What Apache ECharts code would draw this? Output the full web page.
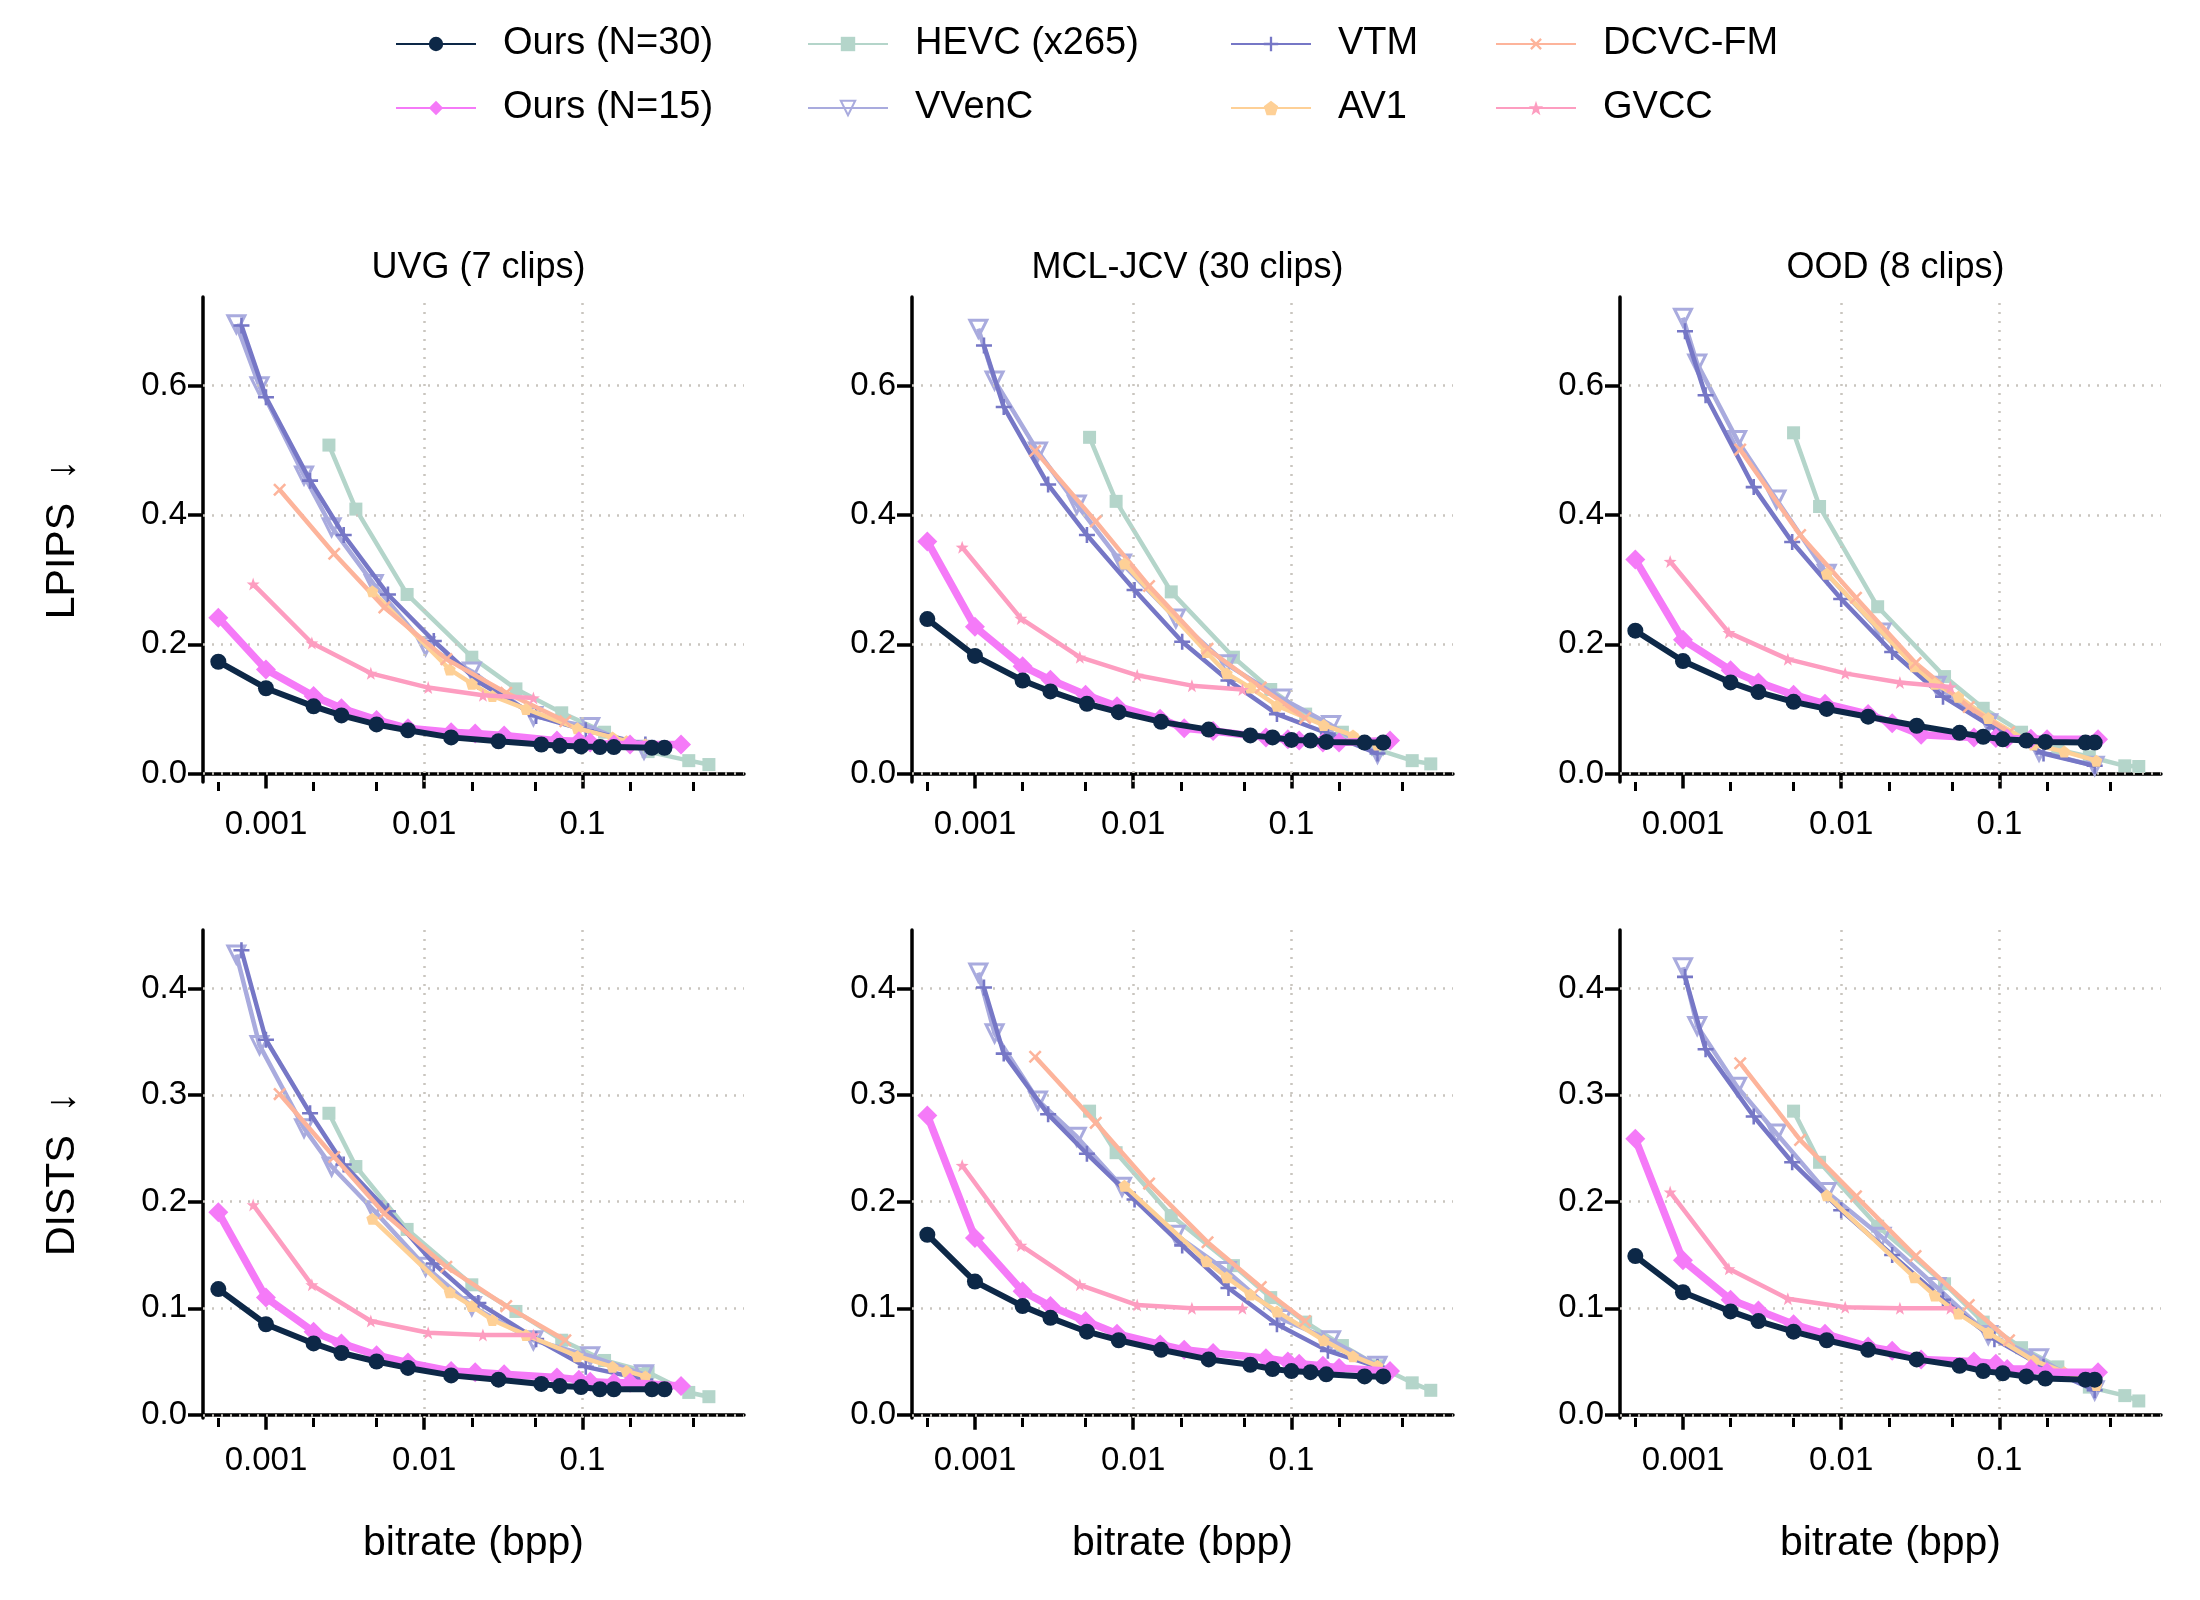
<!DOCTYPE html>
<html>
<head>
<meta charset="utf-8">
<script src="https://cdn.jsdelivr.net/npm/echarts@6/dist/echarts.min.js"></script>
<style>html,body{margin:0;padding:0;background:#fff}#main{width:2200px;height:1600px}</style>
</head>
<body>
<div id="main"></div>
<script>
// 数据 (bpp, 指标值)
var ours30X_uvg = [0.0005, 0.001, 0.002, 0.003, 0.005, 0.0079, 0.0148, 0.0295, 0.055, 0.072, 0.098, 0.129, 0.158, 0.275, 0.33];
var ours30X_mcl = [0.0005, 0.001, 0.002, 0.003, 0.0051, 0.0081, 0.015, 0.030, 0.055, 0.076, 0.1, 0.132, 0.166, 0.29, 0.38];
var ours30X_ood = [0.0005, 0.001, 0.002, 0.003, 0.005, 0.0081, 0.0148, 0.030, 0.056, 0.079, 0.105, 0.148, 0.195, 0.35, 0.40];
var ours15X = [0.0005, 0.001, 0.002, 0.003, 0.005, 0.0079, 0.0148, 0.021, 0.032, 0.069, 0.095, 0.112, 0.158, 0.2, 0.42];
var hevcX_uvg = [0.0025, 0.0037, 0.0078, 0.02, 0.038, 0.074, 0.138, 0.26, 0.47, 0.63];
var hevcX_mcl = [0.0053, 0.0078, 0.0174, 0.043, 0.074, 0.123, 0.21, 0.35, 0.58, 0.76];
var hevcX_ood = [0.005, 0.0073, 0.017, 0.045, 0.079, 0.138, 0.234, 0.37, 0.62, 0.76];
var vvencX_uvg = [0.00065, 0.00091, 0.00174, 0.0026, 0.0048, 0.0102, 0.02, 0.049, 0.112, 0.245];
var vvencX_mcl = [0.00105, 0.00133, 0.0025, 0.0044, 0.0085, 0.0186, 0.039, 0.087, 0.178, 0.35];
var vvencX_ood = [0.001, 0.00123, 0.0022, 0.0039, 0.0081, 0.018, 0.04, 0.085, 0.178, 0.4];
var vtmX_uvg = [0.0007, 0.001, 0.0019, 0.0031, 0.0059, 0.0115, 0.022, 0.051, 0.105, 0.25];
var vtmX_mcl = [0.00114, 0.00152, 0.0029, 0.0051, 0.0102, 0.0204, 0.04, 0.081, 0.17, 0.35];
var vtmX_ood = [0.00103, 0.00139, 0.0028, 0.0049, 0.01, 0.021, 0.044, 0.093, 0.19, 0.4];
var av1X_uvg = [0.0047, 0.0145, 0.02, 0.027, 0.044, 0.093, 0.155, 0.19, 0.25];
var av1X_mcl = [0.0088, 0.029, 0.039, 0.055, 0.081, 0.16, 0.245, 0.35];
var av1X_ood = [0.0081, 0.029, 0.039, 0.055, 0.085, 0.164, 0.257, 0.41];
var dcvcX_uvg = [0.00122, 0.0027, 0.0056, 0.0138, 0.033, 0.078];
var dcvcX_mcl = [0.0024, 0.0058, 0.0126, 0.0295, 0.064, 0.122];
var dcvcX_ood = [0.0023, 0.0055, 0.0124, 0.0295, 0.064, 0.115];
var gvccX = [0.00083, 0.00195, 0.0046, 0.0106, 0.0235, 0.049];

// LPIPS
var lp_uvg = {
    'Ours (N=30)': [0.173, 0.132, 0.104, 0.090, 0.076, 0.067, 0.056, 0.050, 0.045, 0.043, 0.042, 0.041, 0.041, 0.040, 0.040],
    'Ours (N=15)': [0.241, 0.161, 0.120, 0.101, 0.083, 0.070, 0.064, 0.062, 0.059, 0.051, 0.050, 0.048, 0.045, 0.045, 0.045],
    'HEVC (x265)': [0.508, 0.409, 0.277, 0.180, 0.131, 0.094, 0.064, 0.034, 0.020, 0.014],
    'VVenC': [0.695, 0.599, 0.461, 0.381, 0.293, 0.197, 0.158, 0.089, 0.072, 0.037],
    'VTM': [0.693, 0.582, 0.453, 0.369, 0.277, 0.205, 0.142, 0.089, 0.067, 0.045],
    'AV1': [0.282, 0.161, 0.139, 0.120, 0.100, 0.070, 0.056, 0.050, 0.045],
    'DCVC-FM': [0.439, 0.340, 0.257, 0.177, 0.125, 0.081],
    'GVCC': [0.293, 0.202, 0.155, 0.133, 0.121, 0.117]
};
var lp_mcl = {
    'Ours (N=30)': [0.239, 0.182, 0.144, 0.127, 0.108, 0.095, 0.080, 0.068, 0.059, 0.056, 0.052, 0.051, 0.049, 0.048, 0.048],
    'Ours (N=15)': [0.359, 0.227, 0.166, 0.145, 0.122, 0.104, 0.085, 0.070, 0.066, 0.056, 0.053, 0.051, 0.048, 0.048, 0.051],
    'HEVC (x265)': [0.520, 0.421, 0.281, 0.180, 0.130, 0.092, 0.064, 0.037, 0.020, 0.015],
    'VVenC': [0.688, 0.608, 0.498, 0.416, 0.325, 0.240, 0.169, 0.116, 0.075, 0.031],
    'VTM': [0.662, 0.567, 0.447, 0.369, 0.284, 0.204, 0.144, 0.092, 0.062, 0.031],
    'AV1': [0.325, 0.188, 0.155, 0.133, 0.105, 0.075, 0.059, 0.045],
    'DCVC-FM': [0.499, 0.390, 0.290, 0.193, 0.133, 0.086],
    'GVCC': [0.350, 0.240, 0.180, 0.152, 0.136, 0.130]
};
var lp_ood = {
    'Ours (N=30)': [0.221, 0.174, 0.141, 0.126, 0.111, 0.100, 0.088, 0.074, 0.063, 0.057, 0.053, 0.051, 0.049, 0.048, 0.048],
    'Ours (N=15)': [0.331, 0.207, 0.160, 0.141, 0.122, 0.108, 0.092, 0.078, 0.060, 0.056, 0.055, 0.054, 0.054, 0.053, 0.053],
    'HEVC (x265)': [0.527, 0.413, 0.258, 0.150, 0.101, 0.064, 0.037, 0.026, 0.012, 0.011],
    'VVenC': [0.705, 0.634, 0.516, 0.424, 0.309, 0.218, 0.136, 0.078, 0.034, 0.012],
    'VTM': [0.684, 0.585, 0.443, 0.358, 0.270, 0.188, 0.119, 0.070, 0.031, 0.012],
    'AV1': [0.309, 0.166, 0.139, 0.119, 0.086, 0.045, 0.034, 0.020],
    'DCVC-FM': [0.501, 0.369, 0.272, 0.171, 0.103, 0.064],
    'GVCC': [0.328, 0.218, 0.177, 0.155, 0.141, 0.134]
};
// DISTS
var ds_uvg = {
    'Ours (N=30)': [0.118, 0.085, 0.067, 0.058, 0.050, 0.044, 0.037, 0.033, 0.029, 0.027, 0.026, 0.024, 0.024, 0.024, 0.024],
    'Ours (N=15)': [0.190, 0.110, 0.078, 0.067, 0.056, 0.049, 0.041, 0.040, 0.038, 0.035, 0.033, 0.031, 0.030, 0.030, 0.027],
    'HEVC (x265)': [0.283, 0.233, 0.174, 0.122, 0.097, 0.070, 0.051, 0.040, 0.021, 0.017],
    'VVenC': [0.432, 0.347, 0.269, 0.233, 0.192, 0.139, 0.102, 0.070, 0.055, 0.038],
    'VTM': [0.436, 0.352, 0.283, 0.235, 0.191, 0.142, 0.105, 0.071, 0.045, 0.033],
    'AV1': [0.184, 0.115, 0.102, 0.089, 0.075, 0.055, 0.045, 0.041, 0.036],
    'DCVC-FM': [0.301, 0.242, 0.189, 0.139, 0.102, 0.070],
    'GVCC': [0.197, 0.122, 0.088, 0.077, 0.075, 0.075]
};
var ds_mcl = {
    'Ours (N=30)': [0.169, 0.125, 0.102, 0.091, 0.078, 0.070, 0.061, 0.052, 0.047, 0.043, 0.041, 0.040, 0.038, 0.036, 0.036],
    'Ours (N=15)': [0.281, 0.166, 0.116, 0.102, 0.088, 0.076, 0.066, 0.061, 0.058, 0.053, 0.050, 0.048, 0.046, 0.044, 0.041],
    'HEVC (x265)': [0.285, 0.246, 0.187, 0.140, 0.110, 0.087, 0.065, 0.046, 0.030, 0.023],
    'VVenC': [0.415, 0.358, 0.295, 0.261, 0.214, 0.169, 0.135, 0.090, 0.070, 0.046],
    'VTM': [0.401, 0.339, 0.282, 0.245, 0.202, 0.159, 0.119, 0.085, 0.060, 0.045],
    'AV1': [0.215, 0.144, 0.129, 0.113, 0.097, 0.070, 0.055, 0.046],
    'DCVC-FM': [0.336, 0.274, 0.217, 0.162, 0.120, 0.088],
    'GVCC': [0.234, 0.159, 0.122, 0.103, 0.100, 0.100]
};
var ds_ood = {
    'Ours (N=30)': [0.149, 0.115, 0.097, 0.088, 0.078, 0.070, 0.061, 0.052, 0.046, 0.041, 0.039, 0.036, 0.034, 0.033, 0.033],
    'Ours (N=15)': [0.259, 0.145, 0.108, 0.098, 0.085, 0.076, 0.064, 0.060, 0.052, 0.050, 0.048, 0.043, 0.043, 0.040, 0.040],
    'HEVC (x265)': [0.285, 0.237, 0.177, 0.123, 0.087, 0.063, 0.045, 0.026, 0.018, 0.013],
    'VVenC': [0.420, 0.365, 0.308, 0.264, 0.209, 0.167, 0.120, 0.075, 0.053, 0.023],
    'VTM': [0.411, 0.343, 0.280, 0.237, 0.192, 0.150, 0.108, 0.071, 0.045, 0.023],
    'AV1': [0.206, 0.129, 0.112, 0.095, 0.077, 0.051, 0.040, 0.028],
    'DCVC-FM': [0.330, 0.258, 0.205, 0.149, 0.103, 0.070],
    'GVCC': [0.209, 0.137, 0.109, 0.101, 0.100, 0.100]
};

var xByDataset = [
    {'Ours (N=30)': ours30X_uvg, 'Ours (N=15)': ours15X, 'HEVC (x265)': hevcX_uvg, 'VVenC': vvencX_uvg, 'VTM': vtmX_uvg, 'AV1': av1X_uvg, 'DCVC-FM': dcvcX_uvg, 'GVCC': gvccX},
    {'Ours (N=30)': ours30X_mcl, 'Ours (N=15)': ours15X, 'HEVC (x265)': hevcX_mcl, 'VVenC': vvencX_mcl, 'VTM': vtmX_mcl, 'AV1': av1X_mcl, 'DCVC-FM': dcvcX_mcl, 'GVCC': gvccX},
    {'Ours (N=30)': ours30X_ood, 'Ours (N=15)': ours15X, 'HEVC (x265)': hevcX_ood, 'VVenC': vvencX_ood, 'VTM': vtmX_ood, 'AV1': av1X_ood, 'DCVC-FM': dcvcX_ood, 'GVCC': gvccX}
];
var panelData = [[lp_uvg, lp_mcl, lp_ood], [ds_uvg, ds_mcl, ds_ood]];
var titles = ['UVG (7 clips)', 'MCL-JCV (30 clips)', 'OOD (8 clips)'];
var rowNames = ['LPIPS  ↓', 'DISTS  ↓'];
var yTicks = [[0, 0.2, 0.4, 0.6], [0, 0.1, 0.2, 0.3, 0.4]];
var xMajor = [0.001, 0.01, 0.1];
var xMinor = [0.0005, 0.002, 0.005, 0.02, 0.05, 0.2, 0.5];

var PLUS = 'path://M-1,-0.16L1,-0.16L1,0.16L-1,0.16Z M-0.16,-1L0.16,-1L0.16,1L-0.16,1Z';
var STAR = 'path://M0,-1L0.235,-0.324L0.951,-0.309L0.38,0.124L0.588,0.809L0,0.4L-0.588,0.809L-0.38,0.124L-0.951,-0.309L-0.235,-0.324Z';
var PENT = 'path://M0,-1L0.951,-0.309L0.588,0.809L-0.588,0.809L-0.951,-0.309Z';

var styles = {
    'Ours (N=30)': {color: '#0d2847', width: 6, symbol: 'circle', size: 16, z: 10},
    'Ours (N=15)': {color: '#f57af8', width: 7.5, symbol: 'diamond', size: 20, z: 9},
    'HEVC (x265)': {color: '#b4d5ca', width: 4.5, symbol: 'rect', size: 13, z: 3},
    'VVenC': {color: '#a9abde', width: 4.5, symbol: 'triangle', size: 17, z: 4, hollow: true, rotate: 180},
    'VTM': {color: '#7677c6', width: 4.5, symbol: PLUS, size: 16, z: 5},
    'AV1': {color: '#fed096', width: 4.5, symbol: PENT, size: 12, z: 6},
    'DCVC-FM': {color: '#fdb49b', width: 4.5, symbol: PLUS, size: 16, z: 6, rotate: 45},
    'GVCC': {color: '#fd9dc0', width: 4.5, symbol: STAR, size: 13, z: 7}
};
var order = ['GVCC', 'HEVC (x265)', 'VVenC', 'VTM', 'AV1', 'DCVC-FM', 'Ours (N=15)', 'Ours (N=30)'];

var gridLeft = [203, 912, 1620], gridW = 541;
var gridTop = [297, 930], gridH = [485, 488];
var yMin = [-0.013, -0.003], yMax = [0.737, 0.455];
var fontFam = '"Liberation Sans", Arial, Helvetica, sans-serif';

var grids = [], xAxes = [], yAxes = [], series = [], titleList = [];
for (var r = 0; r < 2; r++) {
    for (var c = 0; c < 3; c++) {
        var gi = r * 3 + c;
        grids.push({left: gridLeft[c], top: gridTop[r], width: gridW, height: gridH[r]});
        xAxes.push({
            type: 'log', logBase: 10, gridIndex: gi, min: 0.0004, max: 1.05, position: 'bottom',
            axisLine: {show: true, lineStyle: {color: '#000', width: 3.5}},
            axisTick: {show: true, length: 15, lineStyle: {color: '#000', width: 3.5}, customValues: xMajor},
            axisLabel: {show: true, color: '#000', fontSize: 33, fontFamily: fontFam, margin: 26, customValues: xMajor,
                formatter: function (v) { return String(+v.toPrecision(3)); }},
            splitLine: {show: false}, minorTick: {show: false},
            name: r === 1 ? 'bitrate (bpp)' : '', nameLocation: 'middle', nameGap: 105,
            nameTextStyle: {color: '#000', fontSize: 41, fontFamily: fontFam}
        });
        xAxes.push({
            type: 'log', logBase: 10, gridIndex: gi, min: 0.0004, max: 1.05, position: 'bottom',
            axisLine: {show: false},
            axisTick: {show: true, length: 9, lineStyle: {color: '#000', width: 3}, customValues: xMinor},
            axisLabel: {show: false}, splitLine: {show: false}
        });
        yAxes.push({
            type: 'value', gridIndex: gi, min: yMin[r], max: yMax[r],
            axisLine: {show: true, lineStyle: {color: '#000', width: 3.5}},
            axisTick: {show: true, length: 15, lineStyle: {color: '#000', width: 3.5}, customValues: yTicks[r]},
            axisLabel: {show: true, color: '#000', fontSize: 33, fontFamily: fontFam, margin: 16, customValues: yTicks[r],
                formatter: function (v) { return v.toFixed(1); }},
            splitLine: {show: false},
            name: c === 0 ? rowNames[r] : '', nameLocation: 'middle', nameGap: 120, nameRotate: 90,
            nameTextStyle: {color: '#000', fontSize: 41, fontFamily: fontFam}
        });
        if (r === 0) {
            titleList.push({
                text: titles[c], left: gridLeft[c] + gridW / 2, top: 245, textAlign: 'center',
                textStyle: {color: '#000', fontSize: 36, fontWeight: 'normal', fontFamily: fontFam}
            });
        }
        // 网格虚线
        var ml = [];
        yTicks[r].forEach(function (v) { ml.push({yAxis: v}); });
        xMajor.forEach(function (v) { ml.push({xAxis: v}); });
        series.push({
            type: 'line', xAxisIndex: gi * 2, yAxisIndex: gi, data: [], silent: true, z: 1,
            markLine: {silent: true, symbol: 'none', animation: false, label: {show: false},
                lineStyle: {color: '#c9c5bf', width: 2.5, type: [2, 7]}, data: ml}
        });
        var dat = panelData[r][c];
        order.forEach(function (name) {
            var st = styles[name];
            var xs = xByDataset[c][name], ys = dat[name];
            var pts = ys.map(function (y, i) { return [xs[i], y]; });
            series.push({
                name: name, type: 'line', xAxisIndex: gi * 2, yAxisIndex: gi, data: pts,
                symbol: st.symbol, symbolSize: st.size, symbolRotate: st.rotate || 0, showSymbol: true,
                z: st.z, animation: false,
                lineStyle: {color: st.color, width: st.width},
                itemStyle: st.hollow ? {color: 'rgba(255,255,255,0)', borderColor: st.color, borderWidth: 3}
                                     : {color: st.color, borderWidth: 0}
            });
        });
    }
}

// 图例
var legendPos = [
    ['Ours (N=30)', 390, 20], ['HEVC (x265)', 802, 20], ['VTM', 1225, 20], ['DCVC-FM', 1490, 20],
    ['Ours (N=15)', 390, 84], ['VVenC', 802, 84], ['AV1', 1225, 84], ['GVCC', 1490, 84]
];
var legends = legendPos.map(function (l) {
    return {
        data: [l[0]], left: l[1], top: l[2], itemWidth: 80, itemHeight: 18, selectedMode: false,
        textStyle: {color: '#000', fontSize: 38, fontFamily: fontFam, padding: [0, 0, 0, 22]}
    };
});

var myChart = echarts.init(document.getElementById('main'));
var option = {
    backgroundColor: '#fff',
    animation: false,
    title: titleList,
    legend: legends,
    grid: grids,
    xAxis: xAxes,
    yAxis: yAxes,
    series: series
};
myChart.setOption(option, true);
window.onresize = myChart.resize;
</script>
</body>
</html>
